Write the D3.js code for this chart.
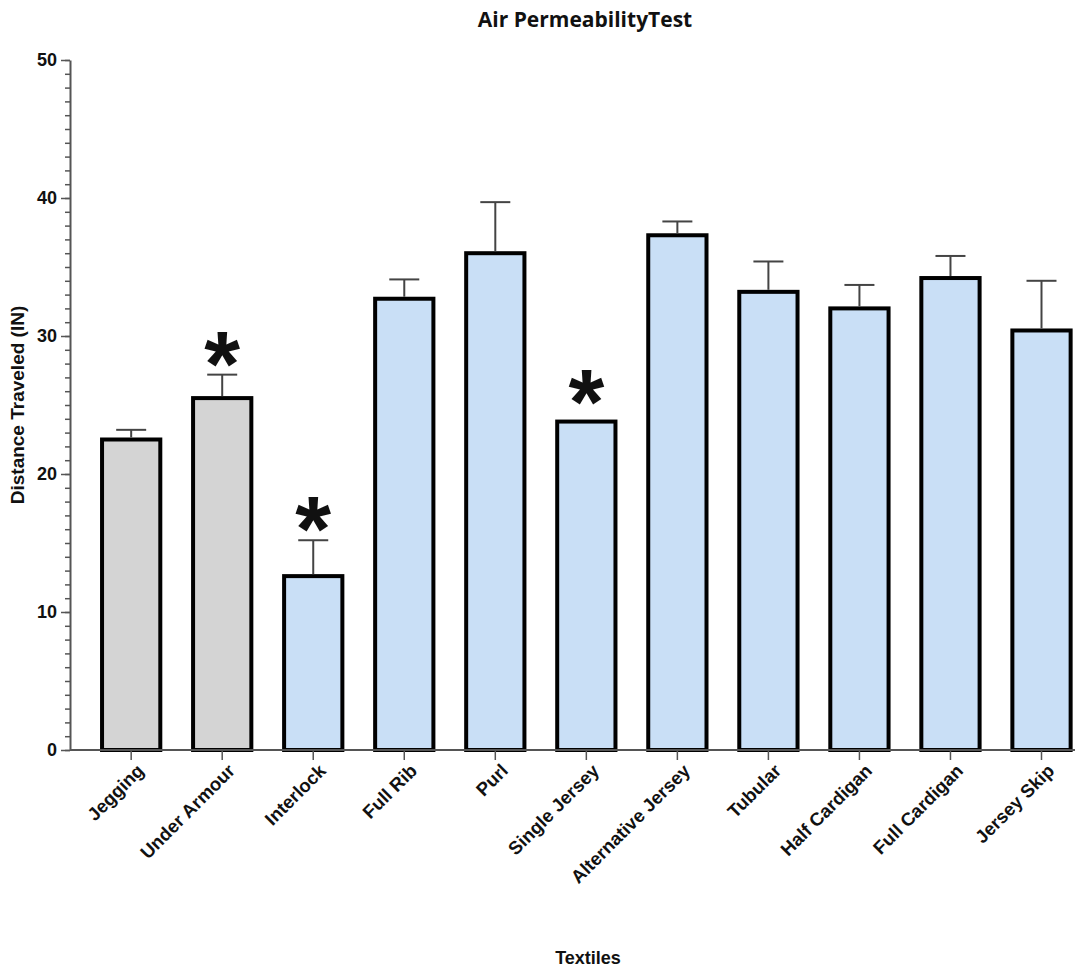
<!DOCTYPE html>
<html>
<head>
<meta charset="utf-8">
<script src="https://cdn.jsdelivr.net/npm/d3@7"></script>
<style>
  body { margin: 0; background: #fff; }
  .chart text { font-family: "Liberation Sans", Arial, sans-serif; font-weight: bold; fill: #111; }
  .chart .title { font-family: "Open Sans", "Liberation Sans", sans-serif; }
</style>
</head>
<body>
<div id="chart"></div>
<script>
// values
const textiles = ['Jegging', 'Under Armour', 'Interlock', 'Full Rib', 'Purl', 'Single Jersey',
  'Alternative Jersey', 'Tubular', 'Half Cardigan', 'Full Cardigan', 'Jersey Skip'];
const means = [22.5, 25.5, 12.6, 32.7, 36.0, 23.8, 37.3, 33.2, 32.0, 34.2, 30.4];
const errors = [0.7, 1.7, 2.6, 1.4, 3.7, 0, 1.0, 2.2, 1.7, 1.6, 3.6];
const groups = ['control', 'control', 'knit', 'knit', 'knit', 'knit', 'knit', 'knit', 'knit', 'knit', 'knit'];
const significant = [false, true, true, false, false, true, false, false, false, false, false];
const yTicks = [0, 10, 20, 30, 40, 50];

const width = 1091, height = 970;
const margin = {left: 70, right: 16, top: 60, bottom: 220};
const fills = {control: '#d4d4d4', knit: '#c9dff6'};

const data = textiles.map((name, i) => ({
  name, mean: means[i], err: errors[i], group: groups[i], sig: significant[i]
}));

const svg = d3.select('#chart').append('svg')
  .attr('class', 'chart')
  .attr('width', width)
  .attr('height', height);

const x = d3.scaleBand()
  .domain(textiles)
  .range([margin.left, width - margin.right])
  .paddingInner(0.36)
  .paddingOuter(0.2)
  .align(0.88);

const y = d3.scaleLinear()
  .domain([0, 50])
  .range([height - margin.bottom, margin.top]);

// y axis: labelled majors plus minor ticks every unit
svg.append('g')
  .attr('transform', `translate(${margin.left},0)`)
  .call(d3.axisLeft(y).tickValues(d3.range(0, 51, 1)).tickSize(5).tickFormat(''))
  .call(g => g.selectAll('line').attr('stroke', '#555').attr('stroke-width', 1.5))
  .call(g => g.select('.domain').remove());

svg.append('g')
  .attr('transform', `translate(${margin.left},0)`)
  .call(d3.axisLeft(y).tickValues(yTicks).tickSize(9).tickSizeOuter(0).tickPadding(4))
  .call(g => g.select('.domain').attr('stroke', '#555').attr('stroke-width', 2))
  .call(g => g.selectAll('line').attr('stroke', '#555').attr('stroke-width', 1.5))
  .call(g => g.selectAll('text').style('font-size', '18px'));

// bars
svg.append('g').selectAll('rect')
  .data(data)
  .join('rect')
  .attr('x', d => x(d.name))
  .attr('y', d => y(d.mean))
  .attr('width', x.bandwidth())
  .attr('height', d => y(0) - y(d.mean))
  .attr('fill', d => fills[d.group])
  .attr('stroke', '#000')
  .attr('stroke-width', 4);

// error bars (upper only)
const capHalf = 15;
const eb = svg.append('g')
  .attr('stroke', '#444')
  .attr('stroke-width', 2)
  .selectAll('g')
  .data(data.filter(d => d.err > 0))
  .join('g');

eb.append('line')
  .attr('x1', d => x(d.name) + x.bandwidth() / 2)
  .attr('x2', d => x(d.name) + x.bandwidth() / 2)
  .attr('y1', d => y(d.mean) - 2)
  .attr('y2', d => y(d.mean + d.err));

eb.append('line')
  .attr('x1', d => x(d.name) + x.bandwidth() / 2 - capHalf)
  .attr('x2', d => x(d.name) + x.bandwidth() / 2 + capHalf)
  .attr('y1', d => y(d.mean + d.err))
  .attr('y2', d => y(d.mean + d.err));

// x axis
svg.append('g')
  .attr('transform', `translate(0,${y(0)})`)
  .call(d3.axisBottom(x).tickSize(10).tickSizeOuter(0).tickPadding(6))
  .call(g => g.select('.domain').attr('stroke', '#555').attr('stroke-width', 2)
    .attr('d', `M${margin.left},0H${width - margin.right}`))
  .call(g => g.selectAll('line').attr('stroke', '#555').attr('stroke-width', 1.5))
  .call(g => g.selectAll('text')
    .style('font-size', '18.5px')
    .attr('text-anchor', 'end')
    .attr('dy', '0.35em')
    .attr('transform', 'translate(-2,6) rotate(-45)'));

// significance marks
svg.append('g').selectAll('text')
  .data(data.filter(d => d.sig))
  .join('text')
  .attr('x', d => x(d.name) + x.bandwidth() / 2)
  .attr('y', d => y(d.mean + d.err) + (d.err > 0 ? 21 : 12))
  .attr('text-anchor', 'middle')
  .style('font-size', '92px')
  .text('*');

// titles
svg.append('text')
  .attr('class', 'title')
  .attr('x', 585)
  .attr('y', 27)
  .attr('text-anchor', 'middle')
  .style('font-size', '21px')
  .text('Air PermeabilityTest');

svg.append('text')
  .attr('transform', `translate(24, ${(y(0) + y(50)) / 2}) rotate(-90)`)
  .attr('text-anchor', 'middle')
  .style('font-size', '19px')
  .text('Distance Traveled (IN)');

svg.append('text')
  .attr('x', 588)
  .attr('y', 964)
  .attr('text-anchor', 'middle')
  .style('font-size', '18px')
  .text('Textiles');
</script>
</body>
</html>
